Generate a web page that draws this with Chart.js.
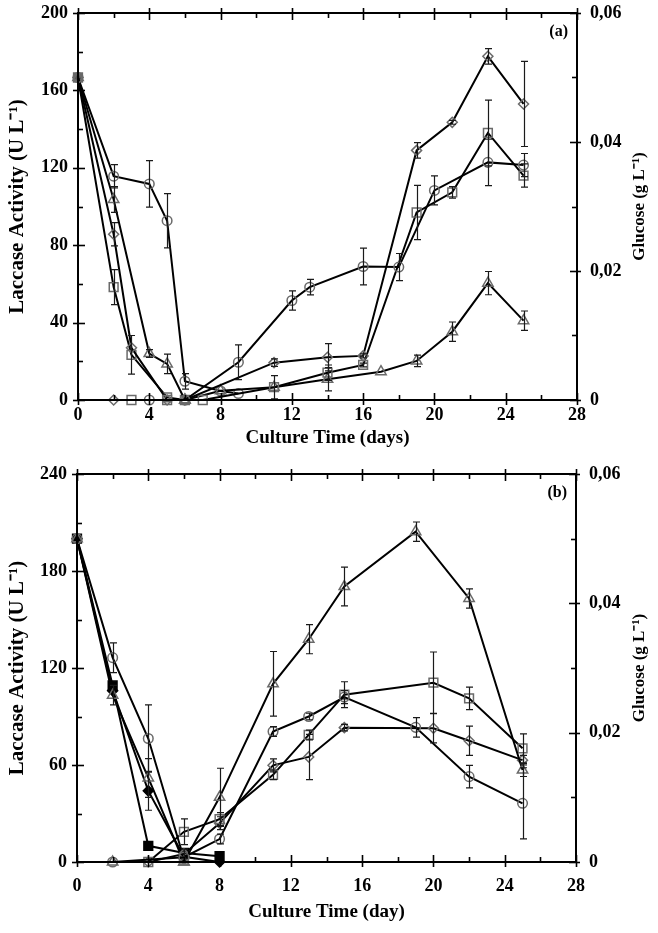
<!DOCTYPE html>
<html>
<head>
<meta charset="utf-8">
<script src="https://cdn.jsdelivr.net/npm/chart.js@4.4.1/dist/chart.umd.min.js"></script>
<style>
  html, body { margin: 0; padding: 0; background: #fff; }
  #wrap { position: relative; width: 658px; height: 933px; }
  canvas { position: absolute; left: 0; }
</style>
</head>
<body>
<div id="wrap">
  <canvas id="chartA" width="658" height="455" style="top:0"></canvas>
  <canvas id="chartB" width="658" height="473" style="top:460px"></canvas>
</div>
<script>
// ---- panel (a) : laccase (U/L, left axis) ----
const aCircDays = [4, 6, 9, 12, 13, 16, 18, 20, 23, 25];
const aCircLac  = [0, 0, 19.5, 51.4, 58.3, 69, 68.7, 108.3, 122.8, 121.4];
const aCircErr  = [0, 0, 9, 5, 4, 9.5, 7, 7.5, 12, 6];

const aDiamDays = [2, 6, 11, 14, 16, 19, 21, 23, 25];
const aDiamLac  = [0, 0, 19.3, 22.1, 22.8, 129, 143.5, 177.6, 153];
const aDiamErr  = [0, 0, 2, 7, 1, 4, 1, 4, 22];

const aSqDays = [3, 5, 7, 11, 14, 16, 19, 21, 23, 25];
const aSqLac  = [0, 0, 0, 6.6, 14.1, 18.1, 96.9, 107.3, 138, 116];
const aSqErr  = [0, 0, 0, 6, 4, 1, 14, 3, 17, 6];

const aTriDays = [6, 8, 11, 14, 17, 19, 21, 23, 25];
const aTriLac  = [0, 4.8, 6.6, 10.7, 14.6, 20.2, 35.3, 60.4, 41];
const aTriErr  = [0, 0, 0, 6, 0, 3, 5, 6, 5];

// ---- panel (a) : glucose (g/L, right axis) ----
const aGCircDays = [0, 2, 4, 5, 6, 8, 9];
const aGCirc     = [0.05, 0.0347, 0.0335, 0.0278, 0.0029, 0.0014, 0.0010];
const aGCircErr  = [0, 0.0018, 0.0036, 0.0042, 0.0012, 0, 0];

const aGTriDays = [0, 2, 4, 5, 6];
const aGTri     = [0.05, 0.0311, 0.0072, 0.0056, 0];
const aGTriErr  = [0, 0.002, 0.0006, 0.0015, 0];

const aGDiamDays = [0, 2, 3, 5];
const aGDiam     = [0.05, 0.0257, 0.0081, 0];
const aGDiamErr  = [0, 0.0018, 0, 0];

const aGSqDays = [0, 2, 3, 5, 6];
const aGSq     = [0.05, 0.0175, 0.007, 0.0004, 0];
const aGSqErr  = [0, 0.0027, 0.003, 0, 0];

// ---- panel (b) : laccase ----
const bCircDays = [2, 6, 8, 11, 13, 15, 19, 22, 25];
const bCircLac  = [0, 3, 14.2, 80.7, 90, 102, 83.3, 52.8, 36.3];
const bCircErr  = [0, 0, 3, 3, 2, 4, 6, 7, 22];

const bTriDays = [2, 6, 8, 11, 13, 15, 19, 22, 25];
const bTriLac  = [0, 0, 40, 110.2, 137.8, 170.4, 204.3, 163, 56.9];
const bTriErr  = [0, 0, 18, 20, 9, 12, 6, 6, 4];

const bSqDays = [4, 6, 8, 11, 13, 15, 20, 22, 25];
const bSqLac  = [0, 18.7, 26.5, 53.9, 78.6, 103.5, 110.9, 101.2, 70.3];
const bSqErr  = [0, 8, 4, 3, 3, 8, 19, 7, 9];

const bDiamDays = [4, 6, 8, 11, 13, 15, 20, 22, 25];
const bDiamLac  = [0, 5, 24, 59.8, 65, 83.1, 82.7, 75, 63];
const bDiamErr  = [0, 3, 4, 4, 14, 2, 9, 9, 3];

// ---- panel (b) : glucose ----
const bGSqDays = [0, 2, 4, 6, 8];
const bGSq     = [0.05, 0.0273, 0.0025, 0.0014, 0.0009];

const bGDiamDays = [0, 2, 4, 6, 8];
const bGDiam     = [0.05, 0.0265, 0.011, 0.0008, 0];
const bGDiamErr  = [0, 0, 0.003, 0, 0];

const bGCircDays = [0, 2, 4, 6];
const bGCirc     = [0.05, 0.0316, 0.0191, 0.0005];
const bGCircErr  = [0, 0.0023, 0.0052, 0];

const bGTriDays = [0, 2, 4, 6];
const bGTri     = [0.05, 0.0258, 0.013, 0];
const bGTriErr  = [0, 0.0015, 0.003, 0];

const xTicks = [0, 4, 8, 12, 16, 20, 24, 28];

// ---- styling ----
const FONT = '"Liberation Serif", "Times New Roman", serif';
const tickFont = { family: FONT, size: 18, weight: 'bold' };
const titleFont = { family: FONT, size: 19, weight: 'bold' };
const GREY = '#6a6a6a';
const radius = { circle: 4.8, rect: 6.2, rectRot: 5, triangle: 6 };

function series(days, vals, errs, shape, axis, filled) {
  return {
    data: days.map((d, i) => ({ x: d, y: vals[i] })),
    errors: errs || [],
    yAxisID: axis,
    showLine: true,
    borderColor: '#000',
    borderWidth: 2,
    pointStyle: shape,
    pointRadius: radius[shape],
    pointBorderWidth: 1.5,
    pointBorderColor: filled ? '#000' : GREY,
    pointBackgroundColor: filled ? '#000' : 'rgba(255,255,255,0)',
    tension: 0,
    fill: false,
    clip: false
  };
}

// frame, crossing/inward ticks, panel letter and the rotated axis titles
const frameTicks = {
  id: 'frameTicks',
  afterDraw(chart, args, o) {
    const { ctx, chartArea: a, scales } = chart;
    const ln = (x1, y1, x2, y2) => { ctx.beginPath(); ctx.moveTo(x1, y1); ctx.lineTo(x2, y2); ctx.stroke(); };
    ctx.save();
    ctx.strokeStyle = '#000';
    ctx.lineWidth = 2;
    ctx.strokeRect(a.left, a.top, a.right - a.left, a.bottom - a.top);
    ctx.lineWidth = 1.6;
    const x = scales.x;
    for (let d = 0; d <= 28; d += 2) {
      const px = Math.round(x.getPixelForValue(d)) + 0.5;
      const major = d % 4 === 0;
      ln(px, a.bottom + (major ? 5 : 0), px, a.bottom - (major ? 7 : 5));
      ln(px, a.top - (major ? 5 : 0), px, a.top + (major ? 7 : 5));
    }
    const y = scales.y;
    for (let v = 0; v <= o.leftMax + 1e-9; v += o.leftMinor) {
      const py = Math.round(y.getPixelForValue(v)) + 0.5;
      const major = Math.round(v / o.leftMinor) % 2 === 0;
      ln(a.left - (major ? 5 : 0), py, a.left + (major ? 7 : 5), py);
    }
    const y2 = scales.y2;
    for (let k = 0; k <= 6; k++) {
      const py = Math.round(y2.getPixelForValue(k * 0.01)) + 0.5;
      const major = k % 2 === 0;
      ln(a.right + (major ? 4 : 0), py, a.right - (major ? 7 : 5), py);
    }
    const midY = (a.top + a.bottom) / 2;
    ctx.fillStyle = '#000';
    ctx.textAlign = 'right';
    ctx.textBaseline = 'middle';
    ctx.font = 'bold 16px ' + FONT;
    ctx.fillText(o.letter, a.right - 9, a.top + 19);
    ctx.textAlign = 'center';
    // left title
    ctx.save();
    ctx.translate(18, midY);
    ctx.rotate(-Math.PI / 2);
    ctx.font = 'bold 21px ' + FONT;
    ctx.fillText('Laccase Activity (U L⁻¹)', 0, 0);
    ctx.restore();
    // right title
    ctx.save();
    ctx.translate(640, midY);
    ctx.rotate(-Math.PI / 2);
    ctx.font = 'bold 17px ' + FONT;
    ctx.fillText('Glucose (g L⁻¹)', 0, 0);
    ctx.restore();
    ctx.restore();
  }
};

const errorBars = {
  id: 'errorBars',
  afterDatasetsDraw(chart) {
    const ctx = chart.ctx;
    ctx.save();
    ctx.strokeStyle = '#1a1a1a';
    ctx.lineWidth = 1.2;
    chart.data.datasets.forEach(ds => {
      const xs = chart.scales.x, ys = chart.scales[ds.yAxisID];
      ds.data.forEach((p, j) => {
        const e = ds.errors[j];
        if (!e) return;
        const px = Math.round(xs.getPixelForValue(p.x)) + 0.5;
        const t = ys.getPixelForValue(p.y + e), b = ys.getPixelForValue(p.y - e);
        ctx.beginPath();
        ctx.moveTo(px, t); ctx.lineTo(px, b);
        ctx.moveTo(px - 3.5, t); ctx.lineTo(px + 3.5, t);
        ctx.moveTo(px - 3.5, b); ctx.lineTo(px + 3.5, b);
        ctx.stroke();
      });
    });
    ctx.restore();
  }
};

function fixWidth(w) {
  return s => { s.width = w; s.paddingTop = 0; s.paddingBottom = 0; };
}

function makeChart(id, datasets, cfg) {
  return new Chart(document.getElementById(id), {
    type: 'scatter',
    data: { datasets },
    plugins: [errorBars, frameTicks],
    options: {
      responsive: false,
      animation: false,
      events: [],
      devicePixelRatio: 1,
      layout: { padding: { top: cfg.top, left: 0, right: 0, bottom: 0 } },
      plugins: {
        legend: { display: false },
        tooltip: { enabled: false },
        frameTicks: { leftMax: cfg.leftMax, leftMinor: cfg.leftStep / 2, letter: cfg.letter }
      },
      scales: {
        x: {
          type: 'linear', min: 0, max: 28,
          afterBuildTicks: s => { s.ticks = xTicks.map(v => ({ value: v })); },
          ticks: { font: tickFont, color: '#000', padding: cfg.xPad, maxRotation: 0 },
          grid: { display: false, drawTicks: false },
          border: { display: false },
          title: { display: true, text: cfg.xTitle, font: titleFont, color: '#000', padding: { top: 0, bottom: cfg.xTitlePad } },
          afterFit: s => { s.height = cfg.xH; }
        },
        y: {
          position: 'left', min: 0, max: cfg.leftMax,
          ticks: { stepSize: cfg.leftStep, font: tickFont, color: '#000', padding: 10 },
          grid: { display: false, drawTicks: false },
          border: { display: false },
          afterFit: fixWidth(cfg.yW)
        },
        y2: {
          position: 'right', min: 0, max: 0.06,
          ticks: {
            stepSize: 0.02, font: tickFont, color: '#000', padding: 13,
            callback: v => (v === 0 ? '0' : v.toFixed(2).replace('.', ','))
          },
          grid: { display: false, drawTicks: false },
          border: { display: false },
          afterFit: fixWidth(cfg.y2W)
        }
      }
    }
  });
}

makeChart('chartA', [
  series(aCircDays, aCircLac, aCircErr, 'circle', 'y'),
  series(aDiamDays, aDiamLac, aDiamErr, 'rectRot', 'y'),
  series(aSqDays, aSqLac, aSqErr, 'rect', 'y'),
  series(aTriDays, aTriLac, aTriErr, 'triangle', 'y'),
  series(aGCircDays, aGCirc, aGCircErr, 'circle', 'y2'),
  series(aGTriDays, aGTri, aGTriErr, 'triangle', 'y2'),
  series(aGDiamDays, aGDiam, aGDiamErr, 'rectRot', 'y2'),
  Object.assign(series(aGSqDays, aGSq, aGSqErr, 'rect', 'y2'),
    { pointBackgroundColor: aGSqDays.map((d, i) => (i === 0 ? '#555' : 'rgba(255,255,255,0)')) })
], { top: 13, leftMax: 200, leftStep: 40, letter: '(a)', xTitle: 'Culture Time (days)', xPad: 5, xTitlePad: 6, xH: 55, yW: 78, y2W: 81 });

makeChart('chartB', [
  series(bCircDays, bCircLac, bCircErr, 'circle', 'y'),
  series(bTriDays, bTriLac, bTriErr, 'triangle', 'y'),
  series(bSqDays, bSqLac, bSqErr, 'rect', 'y'),
  series(bDiamDays, bDiamLac, bDiamErr, 'rectRot', 'y'),
  series(bGCircDays, bGCirc, bGCircErr, 'circle', 'y2'),
  series(bGTriDays, bGTri, bGTriErr, 'triangle', 'y2'),
  series(bGDiamDays, bGDiam, bGDiamErr, 'rectRot', 'y2', true),
  series(bGSqDays, bGSq, [], 'rect', 'y2', true)
], { top: 14, leftMax: 240, leftStep: 60, letter: '(b)', xTitle: 'Culture Time (day)', xPad: 14, xTitlePad: 10, xH: 71, yW: 77, y2W: 82 });
</script>
</body>
</html>
